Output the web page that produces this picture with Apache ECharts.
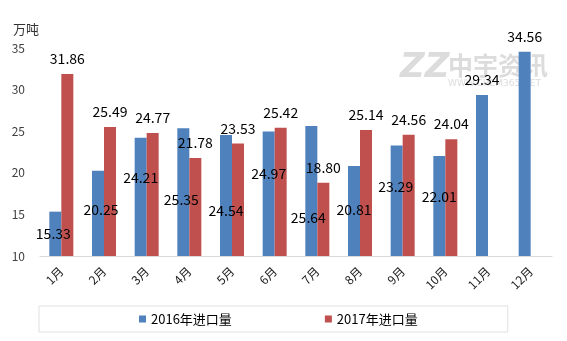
<!DOCTYPE html>
<html>
<head>
<meta charset="utf-8">
<script src="https://cdn.jsdelivr.net/npm/echarts@6/dist/echarts.min.js"></script>
<style>html,body{margin:0;padding:0;background:#fff;}#c{width:567px;height:341px;}</style>
</head>
<body>
<div id="c"></div>
<script>
var months = ['1月','2月','3月','4月','5月','6月','7月','8月','9月','10月','11月','12月'];
var imports2016 = [15.33,20.25,24.21,25.35,24.54,24.97,25.64,20.81,23.29,22.01,29.34,34.56];
var imports2017 = [31.86,25.49,24.77,21.78,23.53,25.42,18.80,25.14,24.56,24.04,null,null];
var seriesNames = ['2016年进口量','2017年进口量'];
var yTicks = {min:10, max:35, interval:5};
var unitLabel = '万吨';

// label placement style (how the reference positions the 2016 labels)
var blueLabelStyle = [[-2,0],[3,-4],[0,-19],[-2,8],[0,15],[0,-20],[-3,27],[0,-1],[-1,-14],[0,-9],null,null];

var FONT = "'Noto Sans CJK SC', 'Noto Sans', sans-serif";
function fmt(p){ return Number(p.value).toFixed(2); }

var blueData = imports2016.map(function(v,i){
  var o = blueLabelStyle[i];
  if (o) return {value:v, label:{position:'inside', offset:o}};
  return {value:v, label:{position:'top', distance:8}};
});

var chart = echarts.init(document.getElementById('c'), null, {renderer:'canvas'});
chart.setOption({
  backgroundColor:'#fff',
  animation:false,
  textStyle:{fontFamily:FONT},
  title:{text:unitLabel, left:8, top:18, textStyle:{fontSize:13, fontWeight:'normal', color:'#333', fontFamily:FONT}},
  graphic:[
    {type:'text', left:400, top:51, z:0, style:{text:'ZZ', font:'italic 900 34px DejaVu Sans', fill:'#dcdcdc'}},
    {type:'text', left:448, top:53, z:0, style:{text:'中宇资讯', font:'bold 25px "Noto Sans CJK SC"', fill:'#dcdcdc'}},
    {type:'text', left:448, top:79, z:0, style:{text:'WWW.CHEM365.NET', font:'9px "DejaVu Sans"', fill:'#dcdcdc'}}
  ],
  grid:{left:40, right:15, top:48, bottom:85, containLabel:false},
  legend:{
    data:seriesNames, left:39, top:306,
    icon:'rect', itemWidth:7, itemHeight:7, itemGap:93,
    padding:[6,90,6,100],
    borderColor:'#e0e0e0', borderWidth:1,
    textStyle:{fontSize:13, color:'#000', fontFamily:FONT, lineHeight:14}
  },
  xAxis:{
    type:'category', data:months,
    axisLine:{lineStyle:{color:'#d9d9d9'}},
    axisTick:{length:4, lineStyle:{color:'#d9d9d9'}},
    axisLabel:{rotate:45, margin:13, fontSize:12, color:'#222', fontFamily:FONT}
  },
  yAxis:{
    type:'value', min:yTicks.min, max:yTicks.max, interval:yTicks.interval,
    axisLine:{show:false}, axisTick:{show:false}, splitLine:{show:false},
    axisLabel:{margin:15, fontSize:12, color:'#404040', fontFamily:FONT}
  },
  series:[
    {name:seriesNames[0], type:'bar', data:blueData, barWidth:12, barGap:'0%',
     itemStyle:{color:'#4f81bd'},
     label:{show:true, formatter:fmt, fontSize:14, color:'#000', fontFamily:FONT}},
    {name:seriesNames[1], type:'bar', data:imports2017, barWidth:12, barGap:'0%',
     itemStyle:{color:'#c0504d'},
     label:{show:true, position:'top', distance:8, formatter:fmt, fontSize:14, color:'#000', fontFamily:FONT}}
  ]
});
</script>
</body>
</html>
